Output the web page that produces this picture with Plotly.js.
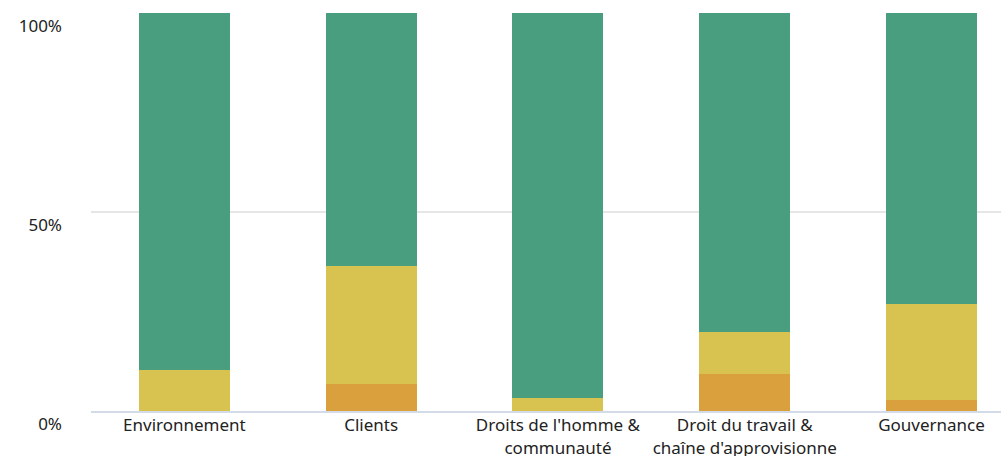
<!DOCTYPE html>
<html>
<head>
<meta charset="utf-8">
<script src="https://cdn.plot.ly/plotly-3.0.1.min.js"></script>
<style>html,body{margin:0;padding:0;background:#fff;}#chart{width:1001px;height:456px;}</style>
</head>
<body>
<div id="chart"></div>
<script>
const categories = ["Environnement", "Clients", "Droits de l'homme &<br>communauté", "Droit du travail &<br>chaîne d'approvisionne", "Gouvernance"];
const orangeValues = [0, 6.8, 0, 9.3, 2.8];
const yellowValues = [10.3, 29.6, 3.3, 10.5, 24.1];
const greenValues = [89.7, 63.6, 96.7, 80.2, 73.1];
const yTickValues = [0, 50, 100];
const yTickLabels = ["0%", "50%", "100%"];

const font = "'Noto Sans', Roboto, sans-serif";
const traces = [
  {name: "orange", x: categories, y: orangeValues, type: "bar", marker: {color: "#daa03e"}},
  {name: "yellow", x: categories, y: yellowValues, type: "bar", marker: {color: "#d9c350"}},
  {name: "green", x: categories, y: greenValues, type: "bar", marker: {color: "#4a9e80"}}
];
const layout = {
  width: 1001, height: 456,
  margin: {l: 91, r: 0, t: 13, b: 45, pad: 0},
  barmode: "stack",
  bargap: 0.513,
  showlegend: false,
  paper_bgcolor: "#fff", plot_bgcolor: "#fff",
  font: {family: font, size: 17, color: "#222"},
  xaxis: {
    type: "category",
    range: [-0.5, 4.372],
    showgrid: false, zeroline: false,
    showline: true, linecolor: "#d3dbe9", linewidth: 2,
    ticks: "", tickfont: {family: font, size: 17, color: "#222"},
    ticklabelstandoff: -2,
    automargin: false
  },
  yaxis: {
    range: [0, 100],
    tickvals: yTickValues, ticktext: yTickLabels,
    showgrid: true, gridcolor: "#e6e6e6", gridwidth: 2,
    zeroline: false, showline: false, ticks: "",
    ticklabelshift: 13,
    ticklabelstandoff: 28,
    tickfont: {family: font, size: 17, color: "#222"},
    automargin: false
  }
};
Plotly.newPlot("chart", traces, layout, {displayModeBar: false, staticPlot: true});
</script>
</body>
</html>
